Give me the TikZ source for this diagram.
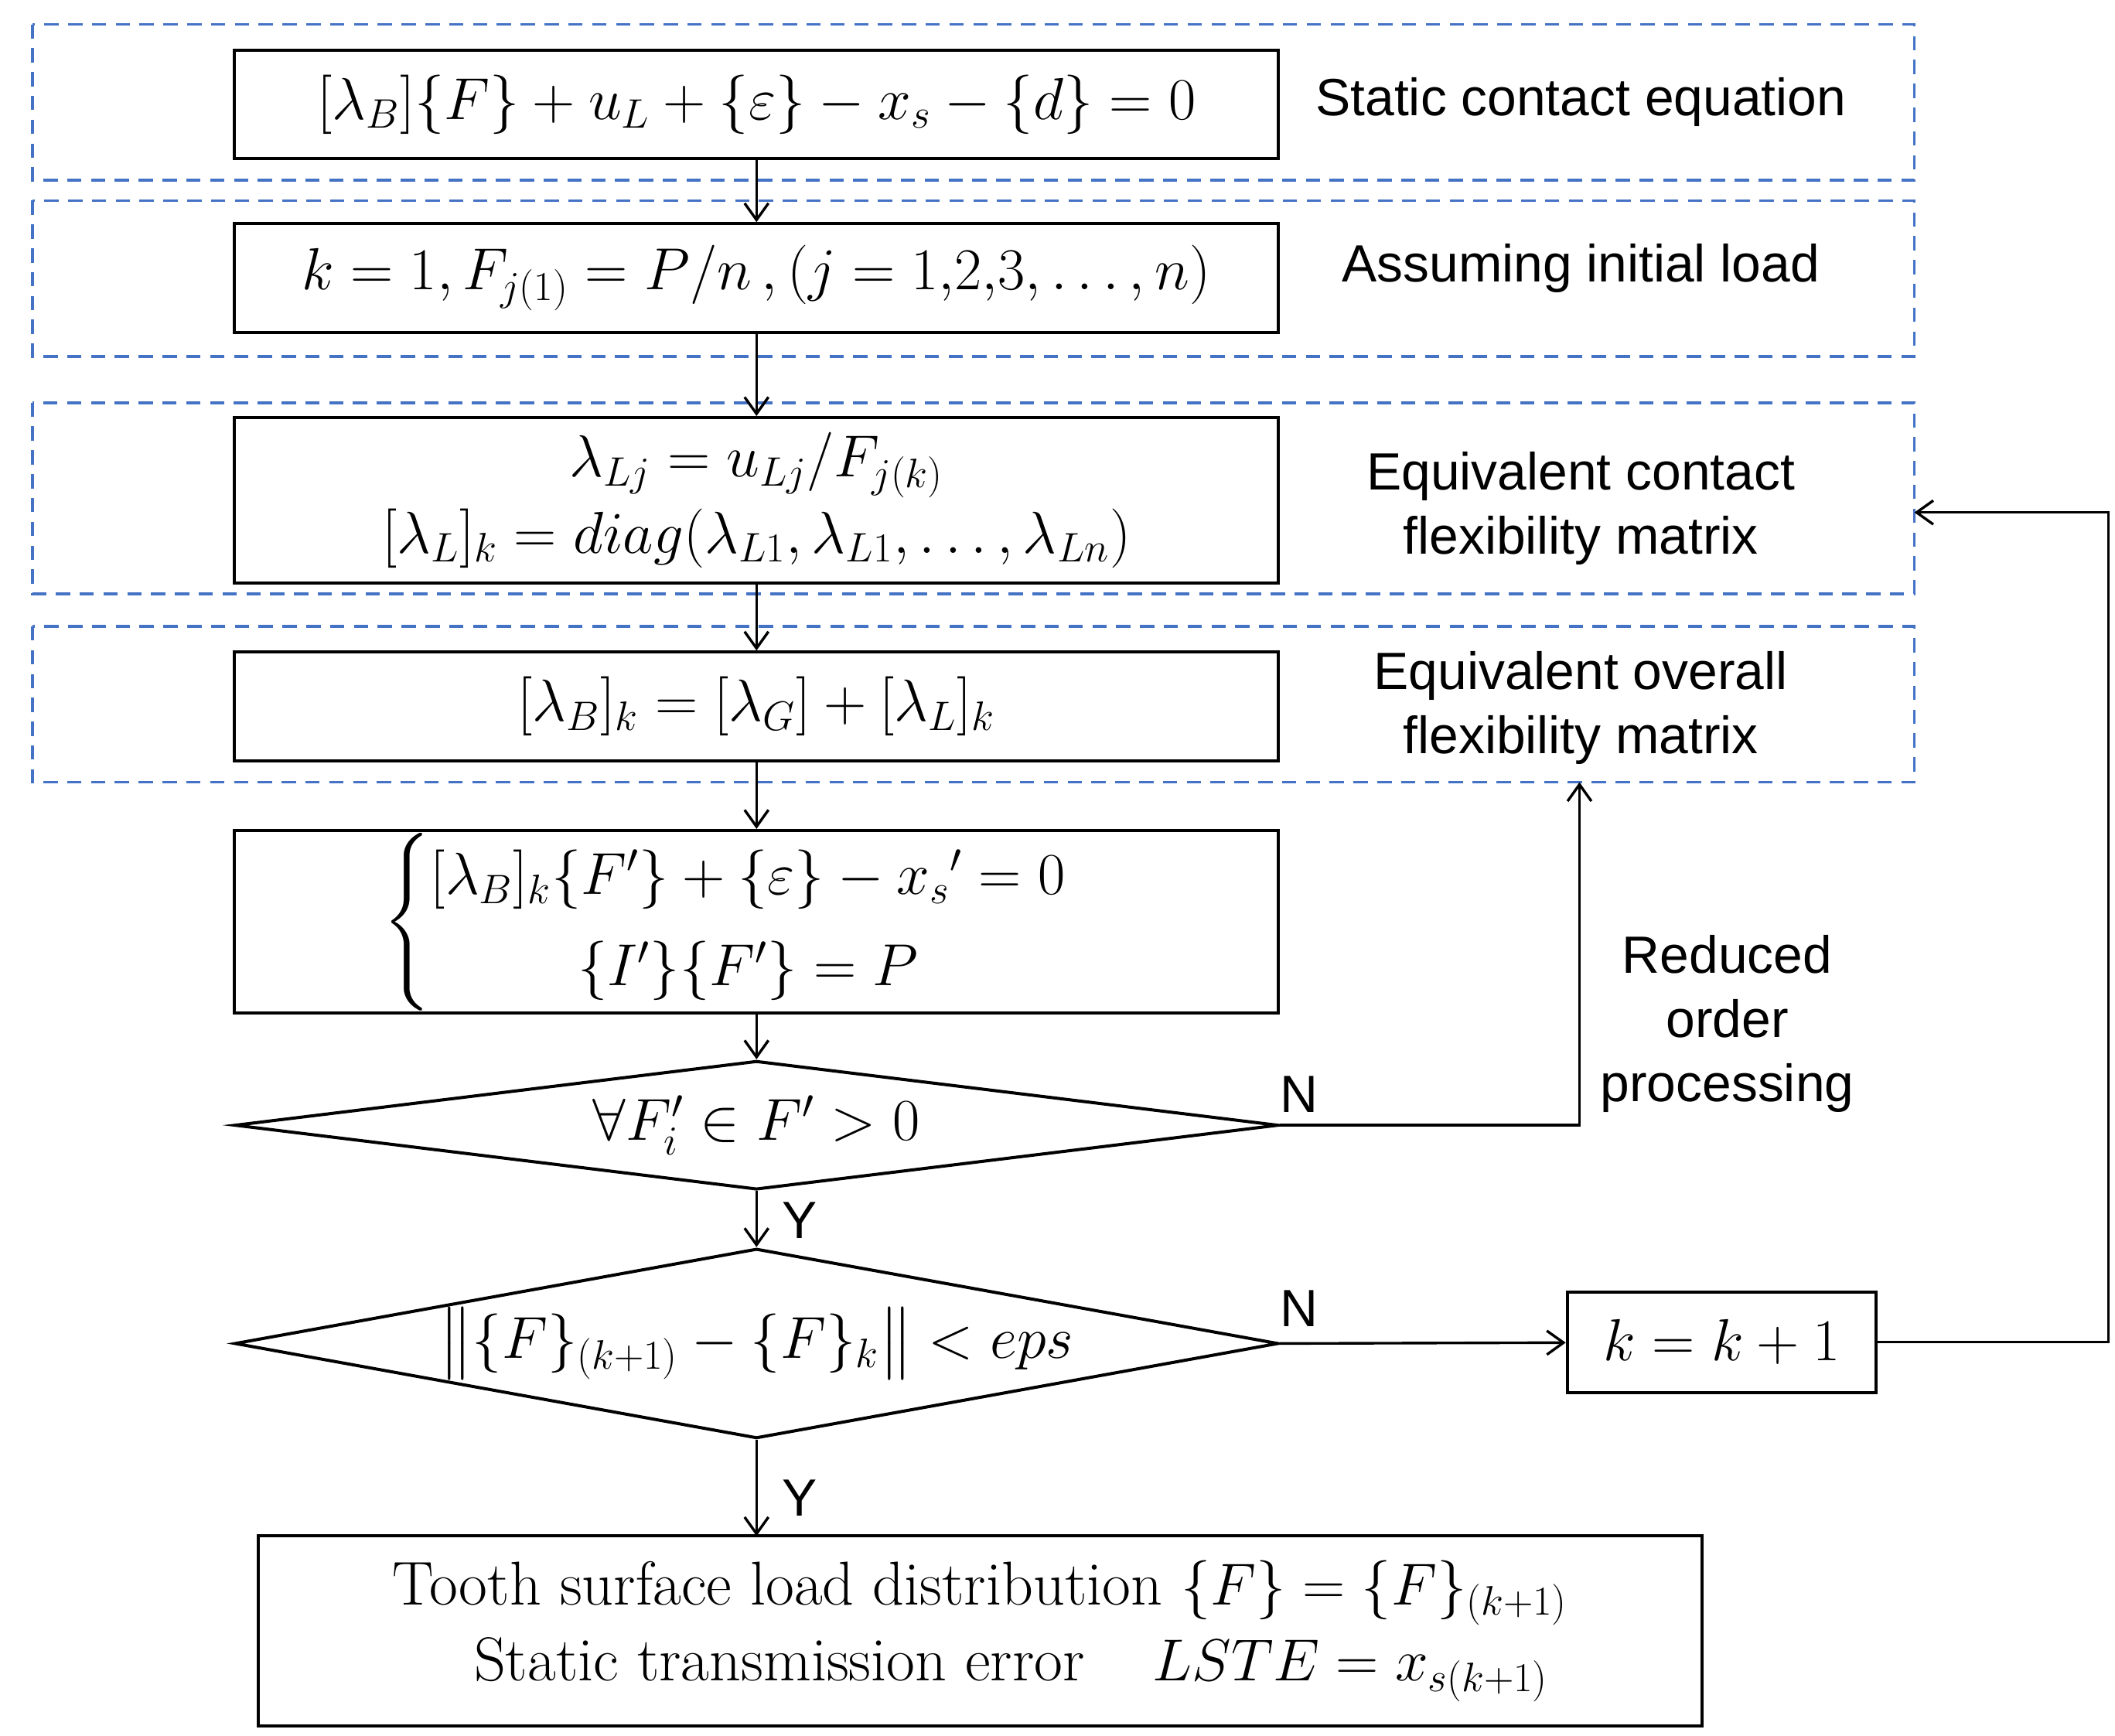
\documentclass[tikz,border=0pt]{standalone}
\usepackage{amsmath}
\usepackage{fontspec}
\newfontfamily\sans{Liberation Sans}
\usetikzlibrary{shapes.geometric,arrows.meta}
\definecolor{dblue}{HTML}{4472C4}
\begin{document}
\begin{tikzpicture}[x=0.02cm,y=-0.02cm,
  box/.style={draw,line width=1.3pt,minimum width=15.4cm,minimum height=1.6cm,inner sep=0pt,font=\fontsize{26}{32}\selectfont},
  dbox/.style={draw=dblue,line width=1.2pt,dash pattern=on 6pt off 4pt},
  lab/.style={font=\sans\fontsize{22}{27}\selectfont,align=center},
  arr/.style={-{Straight Barb[length=7pt,width=10pt]},line width=1.1pt},
  ln/.style={line width=1.1pt}]
\useasboundingbox (0,0) rectangle (1560,1280);
\draw[dbox] (24,18) rectangle (1412,133);
\draw[dbox] (24,148) rectangle (1412,263);
\draw[dbox] (24,297) rectangle (1412,438);
\draw[dbox] (24,462) rectangle (1412,577);
\node[box] (n1) at (558,77) {$[\lambda_B]\{F\}+u_L+\{\varepsilon\}-x_s-\{d\}=0$};
\node[box] (n2) at (558,205) {$k=1,F_{j(1)}=P/n\,,(j=1{,}2{,}3,\dots,n)$};
\node[box,minimum height=2.44cm,align=center] (n3) at (558,369) {$\lambda_{Lj}=u_{Lj}/F_{j(k)}$\\[0pt]$[\lambda_L]_k=diag(\lambda_{L1},\lambda_{L1},\dots,\lambda_{Ln})$};
\node[box] (n4) at (558,521) {$[\lambda_B]_k=[\lambda_G]+[\lambda_L]_k$};
\node[box,minimum height=2.42cm] (n5) at (558,680) {$\begin{cases}[\lambda_B]_k\{F'\}+\{\varepsilon\}-{x_s}'=0\\ \hfill\{I'\}\{F'\}=P\hfill\end{cases}$};
\node[draw,diamond,aspect=8.1,line width=1.3pt,minimum width=15.4cm,minimum height=1.9cm,inner sep=0pt,font=\fontsize{26}{32}\selectfont] (d1) at (558,830) {$\forall F'_i\in F'>0$};
\node[draw,diamond,aspect=5.5,line width=1.3pt,minimum width=15.4cm,minimum height=2.8cm,inner sep=0pt,font=\fontsize{26}{32}\selectfont] (d2) at (558,991) {$\big\|\{F\}_{(k+1)}-\{F\}_k\big\|<eps$};
\node[box,minimum width=4.56cm,minimum height=1.48cm] (k) at (1270,990) {$k=k+1$};
\node[box,minimum width=21.3cm,minimum height=2.8cm,align=left] (f) at (723,1203) {Tooth surface load distribution $\{F\}=\{F\}_{(k+1)}$\\[0pt]\hspace{1.2cm}Static transmission error\hspace{1cm}$LSTE=x_{s(k+1)}$};
\node[lab] at (1166,75) {Static contact equation};
\node[lab] at (1166,198) {Assuming initial load};
\node[lab] at (1166,375) {Equivalent contact\\flexibility matrix};
\node[lab] at (1166,522) {Equivalent overall\\flexibility matrix};
\node[lab] at (1274,755) {Reduced\\order\\processing};
\draw[arr] (n1) -- (n2);
\draw[arr] (n2) -- (n3);
\draw[arr] (n3) -- (n4);
\draw[arr] (n4) -- (n5);
\draw[arr] (n5) -- (d1);
\draw[arr] (d1) -- (d2);
\node[lab] at (590,900) {Y};
\coordinate (c3) at (558,1133);
\draw[arr] (d2.south) -- (c3);
\node[lab] at (590,1105) {Y};
\coordinate (c1) at (1165,577);
\draw[arr] (d1.east) -| (c1);
\node[lab] at (958,807) {N};
\draw[arr] (d2.east) -- (k);
\node[lab] at (958,965) {N};
\coordinate (c2) at (1412,378);
\draw[arr] (k.east) -- (1555,990) |- (c2);
\end{tikzpicture}
\end{document}
